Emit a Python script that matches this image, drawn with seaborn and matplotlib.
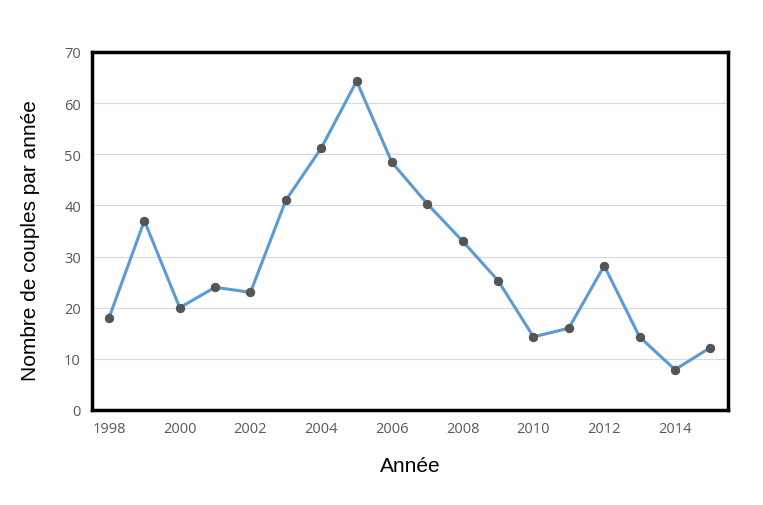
import matplotlib
matplotlib.use("Agg")
import matplotlib.pyplot as plt
import seaborn as sns
import pandas as pd

years = [1998, 1999, 2000, 2001, 2002, 2003, 2004, 2005, 2006, 2007, 2008,
         2009, 2010, 2011, 2012, 2013, 2014, 2015]
couples = [18, 37, 20, 24, 23, 41, 51.2, 64.3, 48.4, 40.3, 33, 25.3, 14.3,
           16, 28.2, 14.3, 7.9, 12.2]
xticks = [1998, 2000, 2002, 2004, 2006, 2008, 2010, 2012, 2014]
yticks = [0, 10, 20, 30, 40, 50, 60, 70]

df = pd.DataFrame({"Année": years, "couples": couples})

sns.set_theme(style="white")
plt.rcParams['font.family'] = ['Open Sans', 'DejaVu Sans']

fig = plt.figure(figsize=(7.63, 5.06), dpi=100)
ax = fig.add_axes([92/763, 1 - 411/506, (728-92)/763, (411-53)/506])

sns.lineplot(data=df, x="Année", y="couples", ax=ax, color="#5B9BD5",
             linewidth=2.2, marker="o", markersize=6,
             markerfacecolor="#555555", markeredgecolor="#555555", zorder=3)

ax.set_xlim(1997.52, 2015.5)
ax.set_ylim(0, 70)
ax.set_xticks(xticks)
ax.set_yticks(yticks)
ax.yaxis.grid(True, color="#D9D9D9", linewidth=0.8)
ax.set_axisbelow(True)
ax.tick_params(axis="both", labelsize=10.5, labelcolor="#595959", length=0, pad=8)
for s in ax.spines.values():
    s.set_color("black")
    s.set_linewidth(2.5)
    s.set_visible(True)

lab_font = ['Liberation Sans', 'DejaVu Sans']
ax.set_xlabel("Année", fontsize=15, color="black", labelpad=14, family=lab_font)
ax.set_ylabel("Nombre de couples par année", fontsize=15, color="black",
              family=lab_font)
ax.yaxis.set_label_coords(-0.082, 0.475)

fig.savefig("out.png", dpi=100)
